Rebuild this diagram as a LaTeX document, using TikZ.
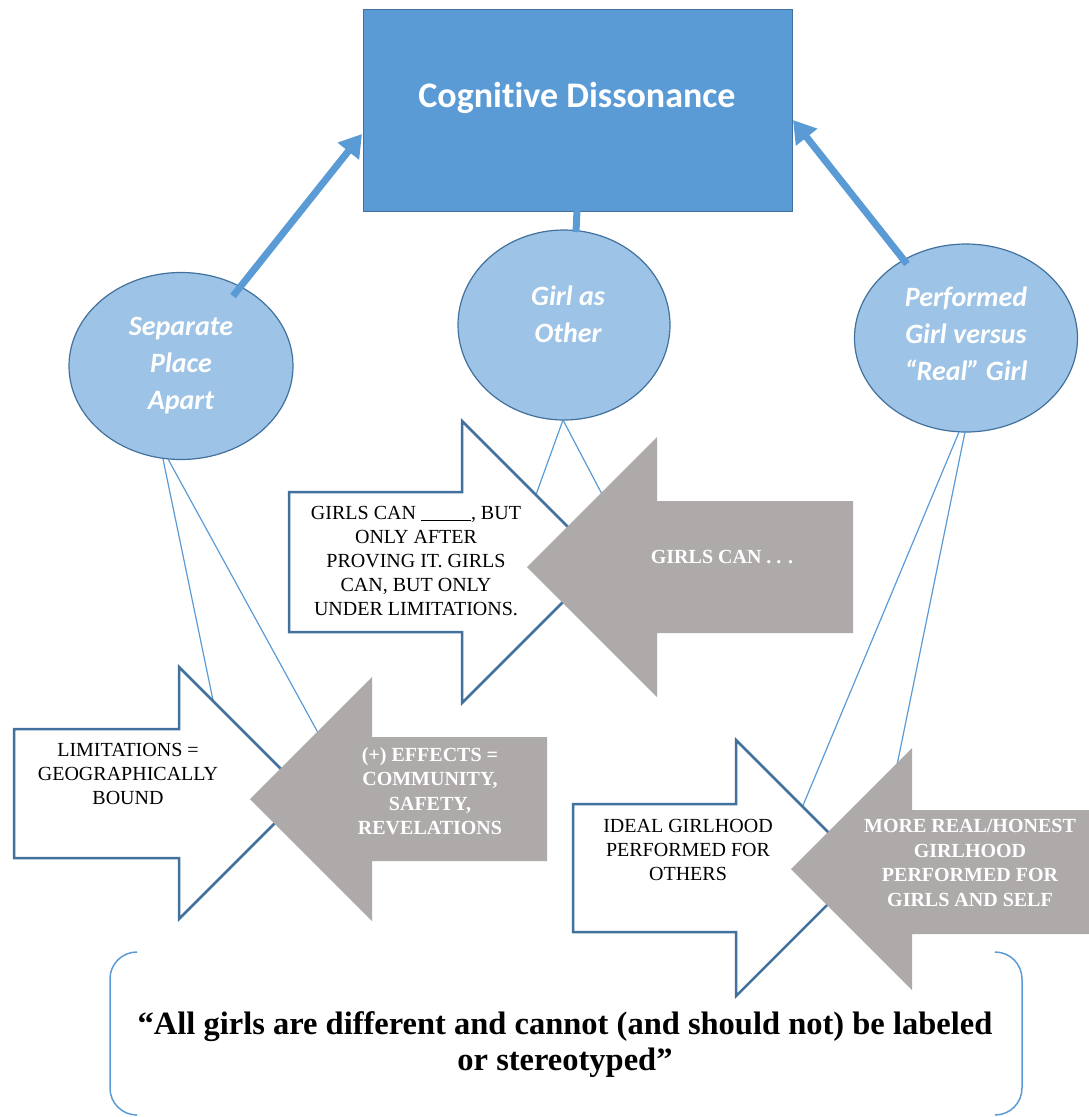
\documentclass[tikz,border=0pt]{standalone}
\usepackage{fontspec}
\setmainfont{Liberation Serif}
\newfontfamily\calib[Ligatures=NoCommon]{Carlito}
\usetikzlibrary{arrows.meta,shapes.geometric}
\definecolor{boxblue}{HTML}{5B9BD5}
\definecolor{edgeblue}{HTML}{41719C}
\definecolor{lightblue}{HTML}{9DC3E6}
\definecolor{arrgray}{HTML}{AEAAAA}
\tikzset{
  cdbox/.style={draw=edgeblue, line width=1pt, fill=boxblue, minimum width=429pt, minimum height=202pt, inner sep=0pt},
  bubble/.style={ellipse, draw=edgeblue, line width=1.2pt, fill=lightblue, inner sep=0pt},
  bubtxt/.style={font=\calib\bfseries\itshape\fontsize{28}{37}\selectfont, text=white, align=center, inner sep=0pt},
  thinline/.style={draw=boxblue, line width=1.2pt},
  bigarrow/.style={draw=boxblue, line width=7pt, -{Triangle[width=26pt,length=22pt]}},
  whitearrow/.style={draw=edgeblue, line width=2.5pt, fill=white, line join=miter},
  grayarrow/.style={fill=arrgray},
  blktxt/.style={font=\fontsize{20}{23.8}\selectfont, align=center, inner sep=0pt},
  wtxt/.style={font=\bfseries\fontsize{20}{24.5}\selectfont, align=center, text=white, inner sep=0pt},
  bracket/.style={draw=boxblue, line width=1.5pt}
}
\begin{document}
\begin{tikzpicture}[x=1pt,y=-1pt]
\useasboundingbox (0,0) rectangle (1089,1117);

% top box
\node[cdbox] (cd) at (577.5,110) {};
\node[font=\calib\bfseries\fontsize{36}{43}\selectfont, text=white, inner sep=0pt] (cdt) at (577,98) {Cognitive Dissonance};

% ellipses
\node[bubble, minimum width=224pt, minimum height=187pt] (sep) at (181,366) {};
\node[bubble, minimum width=212pt, minimum height=190pt] (gao) at (564,325) {};
\node[bubble, minimum width=223pt, minimum height=188pt] (pgr) at (966,338) {};
\node[bubtxt] (sept) at (181,366) {Separate\\Place\\Apart};
\node[bubtxt] (gaot) at (568,314) {Girl as\\Other};
\node[bubtxt] (pgrt) at (966,334) {Performed\\Girl versus\\“Real” Girl};

% thick connectors
\coordinate (sepA) at (233,296);
\coordinate (cdL) at (362,134);
\coordinate (pgrA) at (907,264);
\coordinate (cdR) at (793,120);
\coordinate (cdB) at (577,210);
\coordinate (gaoT) at (576,232);
\draw[bigarrow] (sepA) -- (cdL);
\draw[bigarrow] (pgrA) -- (cdR);
\draw[draw=boxblue, line width=7pt] (cdB) -- (gaoT);

% thin connectors
\coordinate (sepB1) at (163,459);
\coordinate (sepB2) at (168,459);
\coordinate (endA1) at (214,705);
\coordinate (endA2) at (322,740);
\coordinate (gaoB) at (563,420);
\coordinate (endB1) at (533,503);
\coordinate (endB2) at (604,498);
\coordinate (pgrB1) at (959,432);
\coordinate (pgrB2) at (965,432);
\coordinate (endC1) at (799,815);
\coordinate (endC2) at (896,770);
\draw[thinline] (sepB1) -- (endA1);
\draw[thinline] (sepB2) -- (endA2);
\draw[thinline] (gaoB) -- (endB1);
\draw[thinline] (gaoB) -- (endB2);
\draw[thinline] (pgrB1) -- (endC1);
\draw[thinline] (pgrB2) -- (endC2);

% block arrows: middle
\draw[whitearrow] (289,492) -- (462,492) -- (462,421) -- (603,562) -- (462,703) -- (462,632) -- (289,632) -- cycle;
\fill[grayarrow] (853,501) -- (657,501) -- (657,437) -- (527,567) -- (657,697) -- (657,633) -- (853,633) -- cycle;
% left
\draw[whitearrow] (14,729) -- (179,729) -- (179,667) -- (305,793) -- (179,919) -- (179,858) -- (14,858) -- cycle;
\fill[grayarrow] (547,737) -- (372,737) -- (372,677) -- (250,799) -- (372,921) -- (372,861) -- (547,861) -- cycle;
% right
\draw[whitearrow] (573,804) -- (736,804) -- (736,740) -- (864,868) -- (736,996) -- (736,932) -- (573,932) -- cycle;
\fill[grayarrow] (1089,810) -- (912,810) -- (912,748) -- (791,869) -- (912,990) -- (912,934) -- (1089,934) -- cycle;

% arrow texts
\node[blktxt] (t1) at (416,561) {GIRLS CAN \rule[-1pt]{50pt}{1.2pt}, BUT\\ONLY AFTER\\PROVING IT. GIRLS\\CAN, BUT ONLY\\UNDER LIMITATIONS.};
\node[wtxt] (t2) at (722,557) {GIRLS CAN . . .};
\node[blktxt] (t3) at (128,774) {LIMITATIONS =\\GEOGRAPHICALLY\\BOUND};
\node[wtxt] (t4) at (430,791) {(+) EFFECTS =\\COMMUNITY,\\SAFETY,\\REVELATIONS};
\node[blktxt] (t5) at (688,850) {IDEAL GIRLHOOD\\PERFORMED FOR\\OTHERS};
\node[wtxt] (t6) at (970,863) {MORE REAL/HONEST\\GIRLHOOD\\PERFORMED FOR\\GIRLS AND SELF};

% bottom double bracket
\draw[bracket] (137,952) .. controls (122,952) and (110,964) .. (110,979) -- (110,1088) .. controls (110,1103) and (122,1115) .. (137,1115);
\draw[bracket] (995,952) .. controls (1010,952) and (1022,964) .. (1022,979) -- (1022,1088) .. controls (1022,1103) and (1010,1115) .. (995,1115);
\node[font=\bfseries\fontsize{32.5}{36}\selectfont, align=center, inner sep=0pt] (quote) at (565,1045) {“All girls are different and cannot (and should not) be labeled\\or stereotyped”};
\end{tikzpicture}
\end{document}
